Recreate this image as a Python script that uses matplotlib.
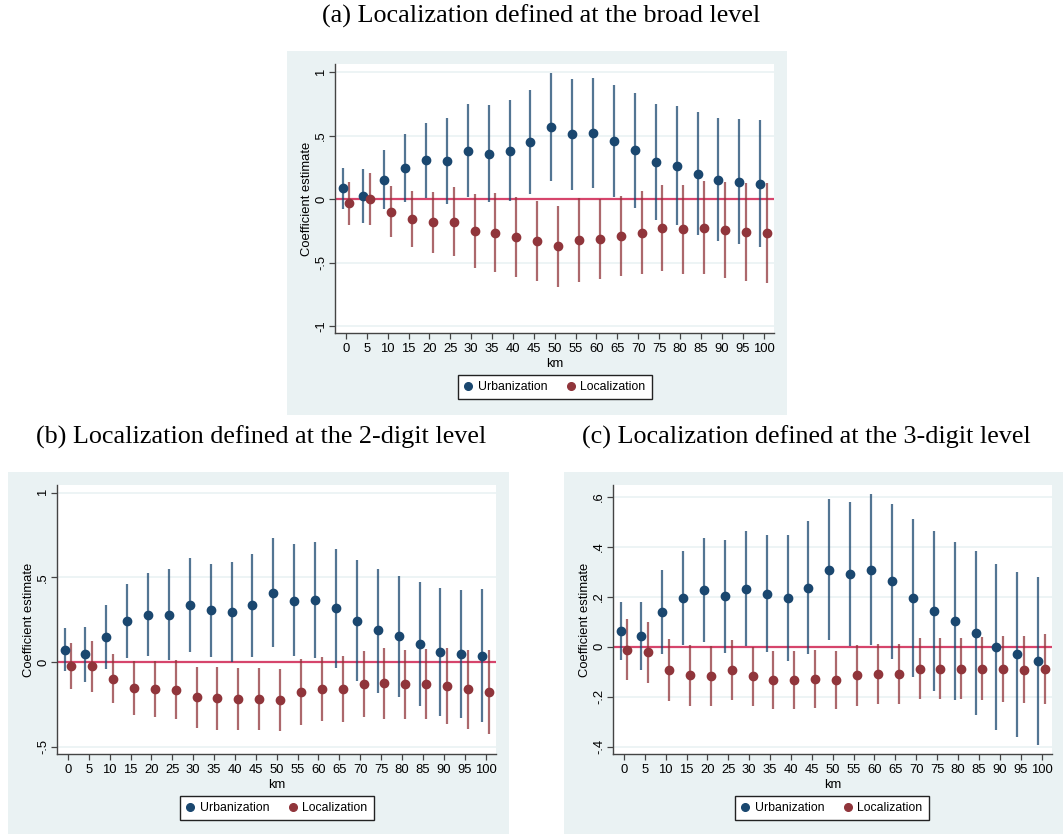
import matplotlib
matplotlib.use("Agg")
import matplotlib.pyplot as plt
from matplotlib.patches import Rectangle
from matplotlib.lines import Line2D

km = list(range(0, 101, 5))

# panel (a): broad level
urb_a = [0.087, 0.024, 0.152, 0.244, 0.304, 0.297, 0.381, 0.357, 0.381, 0.451, 0.564,
         0.509, 0.520, 0.454, 0.383, 0.291, 0.262, 0.199, 0.152, 0.136, 0.121]
urb_a_hi = [0.244, 0.239, 0.388, 0.514, 0.601, 0.635, 0.745, 0.738, 0.777, 0.861, 0.990,
            0.945, 0.953, 0.895, 0.835, 0.751, 0.730, 0.682, 0.640, 0.630, 0.625]
urb_a_lo = [-0.079, -0.189, -0.081, -0.026, 0.010, -0.042, 0.016, -0.026, -0.016, 0.042, 0.139,
            0.073, 0.089, 0.013, -0.071, -0.163, -0.205, -0.281, -0.331, -0.352, -0.381]
loc_a = [-0.034, 0.000, -0.100, -0.155, -0.184, -0.178, -0.252, -0.265, -0.302, -0.331, -0.370,
         -0.323, -0.315, -0.291, -0.268, -0.231, -0.239, -0.226, -0.244, -0.260, -0.270]
loc_a_hi = [0.136, 0.205, 0.105, 0.066, 0.052, 0.092, 0.037, 0.047, 0.013, -0.018, -0.052,
            0.010, 0.000, 0.024, 0.063, 0.110, 0.113, 0.139, 0.131, 0.126, 0.126]
loc_a_lo = [-0.202, -0.202, -0.302, -0.375, -0.423, -0.449, -0.543, -0.575, -0.612, -0.643, -0.690,
            -0.651, -0.630, -0.606, -0.593, -0.567, -0.591, -0.591, -0.619, -0.646, -0.664]

# panel (b): 2-digit level
urb_b = [0.073, 0.047, 0.150, 0.242, 0.280, 0.280, 0.335, 0.305, 0.293, 0.335, 0.407,
         0.362, 0.364, 0.317, 0.242, 0.187, 0.152, 0.104, 0.057, 0.045, 0.037]
urb_b_hi = [0.199, 0.209, 0.339, 0.461, 0.524, 0.549, 0.612, 0.581, 0.589, 0.640, 0.730,
            0.695, 0.709, 0.665, 0.600, 0.551, 0.510, 0.470, 0.437, 0.425, 0.431]
urb_b_lo = [-0.053, -0.116, -0.039, 0.026, 0.037, 0.014, 0.057, 0.028, 0.000, 0.031, 0.087,
            0.033, 0.022, -0.033, -0.114, -0.181, -0.205, -0.260, -0.321, -0.333, -0.352]
loc_b = [-0.022, -0.026, -0.098, -0.156, -0.161, -0.163, -0.207, -0.215, -0.217, -0.217, -0.222,
         -0.177, -0.157, -0.159, -0.130, -0.126, -0.132, -0.130, -0.142, -0.159, -0.175]
loc_b_hi = [0.114, 0.124, 0.049, 0.004, 0.004, 0.012, -0.028, -0.031, -0.033, -0.035, -0.039,
            0.016, 0.028, 0.035, 0.065, 0.081, 0.073, 0.075, 0.081, 0.073, 0.069]
loc_b_lo = [-0.159, -0.175, -0.244, -0.313, -0.327, -0.339, -0.388, -0.400, -0.402, -0.402, -0.407,
            -0.374, -0.346, -0.352, -0.327, -0.335, -0.339, -0.339, -0.366, -0.394, -0.423]

# panel (c): 3-digit level
urb_c = [0.064, 0.044, 0.141, 0.195, 0.229, 0.203, 0.233, 0.213, 0.197, 0.237, 0.309,
         0.293, 0.309, 0.263, 0.195, 0.143, 0.103, 0.057, 0.000, -0.029, -0.056]
urb_c_hi = [0.181, 0.179, 0.309, 0.383, 0.437, 0.429, 0.465, 0.447, 0.449, 0.505, 0.593,
            0.581, 0.613, 0.572, 0.511, 0.464, 0.421, 0.385, 0.331, 0.301, 0.281]
urb_c_lo = [-0.052, -0.093, -0.028, 0.008, 0.021, -0.024, 0.003, -0.019, -0.056, -0.028, 0.027,
            0.005, 0.007, -0.047, -0.120, -0.177, -0.213, -0.271, -0.331, -0.360, -0.392]
loc_c = [-0.011, -0.021, -0.092, -0.112, -0.116, -0.091, -0.117, -0.131, -0.131, -0.128, -0.133,
         -0.113, -0.109, -0.108, -0.087, -0.087, -0.088, -0.087, -0.089, -0.091, -0.089]
loc_c_hi = [0.113, 0.100, 0.032, 0.009, 0.003, 0.029, 0.000, -0.015, -0.015, -0.012, -0.016,
            0.008, 0.011, 0.011, 0.036, 0.036, 0.035, 0.041, 0.045, 0.045, 0.051]
loc_c_lo = [-0.131, -0.143, -0.216, -0.235, -0.235, -0.212, -0.236, -0.247, -0.247, -0.244, -0.249,
            -0.235, -0.229, -0.227, -0.208, -0.208, -0.208, -0.213, -0.221, -0.225, -0.228]

titles = ["(a) Localization defined at the broad level",
          "(b) Localization defined at the 2-digit level",
          "(c) Localization defined at the 3-digit level"]

NAVY = "#1a476f"
MAROON = "#90353b"
ZERO = "#d6456c"
BG = "#eaf2f3"

W, H = 1063, 834
fig = plt.figure(figsize=(W / 100, H / 100), dpi=100)
plt.rcParams['font.family'] = ['Liberation Sans', 'DejaVu Sans']


def box(x0, y0, x1, y1):
    # pixel box (top-left origin) -> figure fraction [l, b, w, h]
    return [x0 / W, 1 - y1 / H, (x1 - x0) / W, (y1 - y0) / H]


def panel(axbox, bgbox, ylim, yticks, yticklabels, urb, ulo, uhi, loc, llo, lhi, legx, legy):
    l, b, w, h = box(*bgbox)
    fig.patches.append(Rectangle((l, b), w, h, transform=fig.transFigure,
                                 facecolor=BG, edgecolor="none", zorder=-5))
    ax = fig.add_axes(box(*axbox))
    ax.set_facecolor("white")
    xu = [k - 0.8 for k in km]
    xl = [k + 0.8 for k in km]
    for yt in yticks:
        ax.axhline(yt, color=BG, lw=1.2, zorder=0)
    ax.axhline(0, color=ZERO, lw=1.6, zorder=1)
    ax.vlines(xu, ulo, uhi, color=NAVY, lw=1.6, alpha=0.75, zorder=2)
    ax.vlines(xl, llo, lhi, color=MAROON, lw=1.6, alpha=0.75, zorder=2)
    ax.plot(xu, urb, "o", color=NAVY, ms=6, zorder=3)
    ax.plot(xl, loc, "o", color=MAROON, ms=6, zorder=3)
    ax.set_xlim(-2.6, 102.5)
    ax.set_ylim(*ylim)
    ax.set_xticks(km)
    ax.set_xticklabels([str(k) for k in km], fontsize=9.4)
    ax.set_yticks(yticks)
    ax.set_yticklabels(yticklabels, fontsize=9.4, rotation=90, va="center")
    ax.spines["top"].set_visible(False)
    ax.spines["right"].set_visible(False)
    for s in ("left", "bottom"):
        ax.spines[s].set_color("#444444")
        ax.spines[s].set_linewidth(1.0)
    ax.tick_params(direction="out", length=4, width=0.9, color="#444444", pad=3.5)
    ax.tick_params(axis="y", pad=1.5)
    ax.set_xlabel("km", fontsize=9.4, labelpad=2)
    ax.set_ylabel("Coefficient estimate", fontsize=9.4, labelpad=1.5)
    handles = [Line2D([], [], ls="none", marker="o", color=NAVY, ms=5.5),
               Line2D([], [], ls="none", marker="o", color=MAROON, ms=5.5)]
    fig.legend(handles, ["Urbanization", "Localization"], loc="center",
               bbox_to_anchor=(legx / W, 1 - legy / H), ncol=2, fontsize=8.8,
               frameon=True, fancybox=False, edgecolor="#222222", framealpha=1,
               handlelength=0.6, handletextpad=0.5, columnspacing=1.6,
               borderpad=0.5)
    return ax


panel((335, 64, 774, 333), (287, 51, 787, 415), (-1.055, 1.063),
      [-1, -0.5, 0, 0.5, 1], ["-1", "-.5", "0", ".5", "1"],
      urb_a, urb_a_lo, urb_a_hi, loc_a, loc_a_lo, loc_a_hi, 555, 387)
panel((57, 485, 496, 754), (8, 472, 509, 834), (-0.543, 1.045),
      [-0.5, 0, 0.5, 1], ["-.5", "0", ".5", "1"],
      urb_b, urb_b_lo, urb_b_hi, loc_b, loc_b_lo, loc_b_hi, 277, 808)
panel((613, 485, 1052, 754), (564, 472, 1063, 834), (-0.429, 0.647),
      [-0.4, -0.2, 0, 0.2, 0.4, 0.6], ["-.4", "-.2", "0", ".2", ".4", ".6"],
      urb_c, urb_c_lo, urb_c_hi, loc_c, loc_c_lo, loc_c_hi, 832, 808)

fig.text(541 / W, 1 - 16 / H, titles[0], ha="center", va="center",
         fontsize=18.8, family="Liberation Serif")
fig.text(261 / W, 1 - 437 / H, titles[1], ha="center", va="center",
         fontsize=18.8, family="Liberation Serif")
fig.text(806 / W, 1 - 437 / H, titles[2], ha="center", va="center",
         fontsize=18.8, family="Liberation Serif")

fig.savefig("out.png", dpi=100)
